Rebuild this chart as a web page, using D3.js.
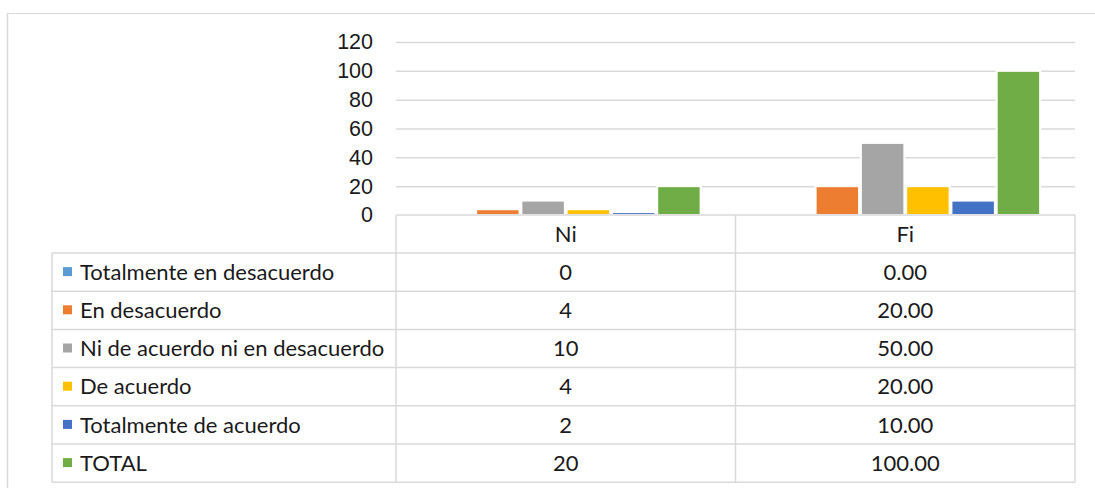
<!DOCTYPE html>
<html>
<head>
<meta charset="utf-8">
<script src="https://cdn.jsdelivr.net/npm/d3@7"></script>
<style>
  body { margin: 0; background: #ffffff; }
  svg { display: block; font-family: Lato, "Open Sans", sans-serif; }
  .tick text { font-size: 21.5px; fill: #1a1a1a; }
  .cell { font-size: 22px; fill: #1a1a1a; }
  .grid line { stroke: #d9d9d9; stroke-width: 1.5; }
  .rule { stroke: #d9d9d9; stroke-width: 1.5; }
</style>
</head>
<body>
<svg></svg>
<script>
// chart data
var categories = ["Ni", "Fi"];
var series = ["Totalmente en desacuerdo", "En desacuerdo", "Ni de acuerdo ni en desacuerdo",
              "De acuerdo", "Totalmente de acuerdo", "TOTAL"];
var niValues = [0, 4, 10, 4, 2, 20];
var fiValues = [0, 20, 50, 20, 10, 100];
var fiLabels = ["0.00", "20.00", "50.00", "20.00", "10.00", "100.00"];
var yTicks = [0, 20, 40, 60, 80, 100, 120];
var colors = ["#5b9bd5", "#ed7d31", "#a5a5a5", "#ffc000", "#4472c4", "#70ad47"];

var screen = {width: 1095, height: 488};
var margins = {left: 396, right: 20, top: 42, bottom: 273};
var graph = {
    width: screen.width - margins.left - margins.right,
    height: screen.height - margins.top - margins.bottom
};
var table = {left: 52, headerHeight: 38, rowHeight: 38.2};

var makeTranslateString = function(x, y)
{
    return "translate(" + x + "," + y + ")";
}

//grid lines and y labels
var drawAxes = function(svg, xScale, yScale)
{
    svg.append("g")
        .classed("grid", true)
        .attr("transform", makeTranslateString(margins.left, 0))
        .call(d3.axisLeft(yScale).tickValues(yTicks.slice(1))
              .tickSize(-graph.width).tickFormat(""))
        .call(function(g) { g.select(".domain").remove(); });

    svg.append("g")
        .attr("transform", makeTranslateString(margins.left, 0))
        .call(d3.axisLeft(yScale).tickValues(yTicks).tickSize(0).tickPadding(23))
        .call(function(g) { g.select(".domain").remove(); })
        .selectAll("text")
        .attr("font-family", null);
}

//grouped bars
var drawBars = function(svg, xScale, x1Scale, yScale)
{
    var groups = [
        {name: categories[0], values: niValues},
        {name: categories[1], values: fiValues}
    ];

    svg.append("g")
        .selectAll("g")
        .data(groups)
        .enter()
        .append("g")
        .attr("transform", function(d) { return makeTranslateString(xScale(d.name), 0); })
        .selectAll("rect")
        .data(function(d) { return d.values.map(function(v, i) { return {s: series[i], v: v, c: colors[i]}; }); })
        .enter()
        .append("rect")
        .attr("x", function(d) { return x1Scale(d.s); })
        .attr("y", function(d) { return yScale(d.v); })
        .attr("width", x1Scale.bandwidth())
        .attr("height", function(d) { return yScale(0) - yScale(d.v); })
        .attr("fill", function(d) { return d.c; })
        .attr("stroke", "#ffffff")
        .attr("stroke-width", 2);
}

//data table under the chart with the legend keys
var drawTable = function(svg, xScale, yScale)
{
    var top = yScale(0);
    var bodyTop = top + table.headerHeight;
    var bottom = bodyTop + table.rowHeight * series.length;
    var right = margins.left + graph.width;
    var t = svg.append("g").classed("table", true);

    // horizontal rules
    t.append("line").classed("rule", true)
        .attr("x1", margins.left).attr("x2", right).attr("y1", top).attr("y2", top);
    d3.range(series.length + 1).forEach(function(i) {
        var y = bodyTop + i * table.rowHeight;
        t.append("line").classed("rule", true)
            .attr("x1", table.left).attr("x2", right).attr("y1", y).attr("y2", y);
    });
    // vertical rules
    t.append("line").classed("rule", true)
        .attr("x1", table.left).attr("x2", table.left).attr("y1", bodyTop).attr("y2", bottom);
    [margins.left, xScale("Fi"), right].forEach(function(x) {
        t.append("line").classed("rule", true)
            .attr("x1", x).attr("x2", x).attr("y1", top).attr("y2", bottom);
    });

    // header
    t.selectAll("text.head")
        .data(categories)
        .enter()
        .append("text")
        .classed("cell", true)
        .attr("text-anchor", "middle")
        .attr("x", function(d) { return xScale(d) + xScale.bandwidth() / 2; })
        .attr("y", top + table.headerHeight / 2)
        .attr("dy", "0.35em")
        .text(function(d) { return d; });

    var rows = t.selectAll("g.row")
        .data(series)
        .enter()
        .append("g")
        .attr("transform", function(d, i) {
            return makeTranslateString(0, bodyTop + (i + 0.5) * table.rowHeight);
        });

    rows.append("rect")
        .attr("x", 63).attr("y", -5)
        .attr("width", 9).attr("height", 9)
        .attr("fill", function(d, i) { return colors[i]; });

    rows.append("text")
        .classed("cell", true)
        .attr("x", 80).attr("dy", "0.35em")
        .text(function(d) { return d; });

    rows.append("text")
        .classed("cell", true)
        .attr("text-anchor", "middle")
        .attr("x", xScale("Ni") + xScale.bandwidth() / 2).attr("dy", "0.35em")
        .text(function(d, i) { return niValues[i]; });

    rows.append("text")
        .classed("cell", true)
        .attr("text-anchor", "middle")
        .attr("x", xScale("Fi") + xScale.bandwidth() / 2).attr("dy", "0.35em")
        .text(function(d, i) { return fiLabels[i]; });
}

var initGraph = function()
{
    var svg = d3.select("svg")
        .attr("width", screen.width)
        .attr("height", screen.height);

    // outer chart border
    svg.append("line").classed("rule", true).style("stroke-width", 1)
        .attr("x1", 7).attr("x2", screen.width).attr("y1", 13.5).attr("y2", 13.5);
    svg.append("line").classed("rule", true).style("stroke-width", 1.5)
        .attr("x1", 7.5).attr("x2", 7.5).attr("y1", 13).attr("y2", screen.height);

    var xScale = d3.scaleBand()
        .domain(categories)
        .range([margins.left, margins.left + graph.width]);

    var x1Scale = d3.scaleBand()
        .domain(series)
        .range([0, xScale.bandwidth()])
        .paddingInner(0.04)
        .paddingOuter(0.77);

    var yScale = d3.scaleLinear()
        .domain([0, 120])
        .range([margins.top + graph.height, margins.top]);

    drawAxes(svg, xScale, yScale);
    drawBars(svg, xScale, x1Scale, yScale);
    drawTable(svg, xScale, yScale);
}

initGraph();
</script>
</body>
</html>
